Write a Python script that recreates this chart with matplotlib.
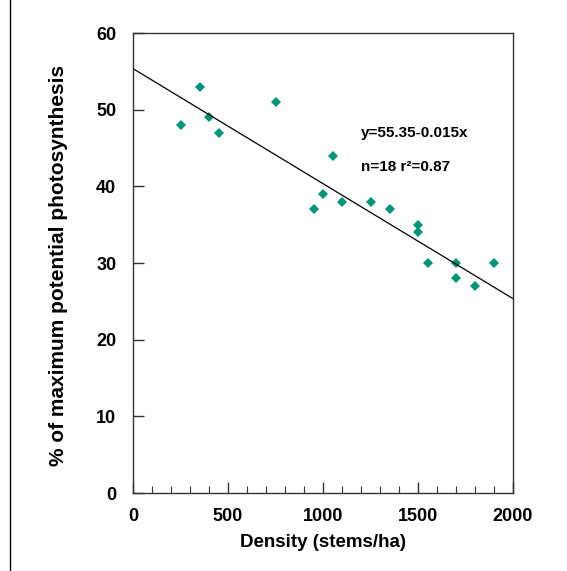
import matplotlib
matplotlib.use("Agg")
import matplotlib.pyplot as plt
from matplotlib.lines import Line2D
from matplotlib.ticker import MultipleLocator

plt.rcParams['font.family'] = ['Liberation Sans', 'DejaVu Sans']

density = [250, 350, 400, 450, 750, 950, 1000, 1050, 1100, 1250, 1350, 1500, 1500, 1550, 1700, 1700, 1800, 1900]
photo = [48, 53, 49, 47, 51, 37, 39, 44, 38, 38, 37, 35, 34, 30, 30, 28, 27, 30]
intercept = 55.35
slope = -0.015
x_ticks = [0, 500, 1000, 1500, 2000]
y_ticks = [0, 10, 20, 30, 40, 50, 60]

fig = plt.figure(figsize=(5.67, 5.71), dpi=100)
ax = fig.add_axes([0.2346, 0.1366, 0.6702, 0.8056])

ax.plot(density, photo, linestyle='none', marker='D', markersize=5,
        color='#009478', markeredgewidth=0)
xs = [0, 2000]
ax.plot(xs, [intercept + slope * v for v in xs], color='black', linewidth=0.9)

ax.set_xlim(0, 2000)
ax.set_ylim(0, 60)
ax.set_xticks(x_ticks)
ax.set_yticks(y_ticks)
ax.xaxis.set_minor_locator(MultipleLocator(100))
ax.tick_params(axis='x', which='major', direction='in', length=8, width=1, pad=11,
               labelsize=13, color='#333333')
ax.tick_params(axis='x', which='minor', direction='in', length=5, width=0.8, color='#333333')
ax.tick_params(axis='y', which='major', direction='in', length=8, width=1, pad=12,
               labelsize=13, color='#333333')
for lbl in ax.get_xticklabels() + ax.get_yticklabels():
    lbl.set_fontweight('bold')
for sp in ax.spines.values():
    sp.set_linewidth(1.0)
    sp.set_color('#333333')

ax.set_xlabel('Density (stems/ha)', fontsize=13.5, fontweight='bold', labelpad=6)
ax.set_ylabel('% of maximum potential photosynthesis', fontsize=15, fontweight='bold')
ax.yaxis.set_label_coords(-0.171, 0.495)

ax.text(1200, 47, 'y=55.35-0.015x', fontsize=11, fontweight='bold', va='center')
ax.text(1200, 42.5, 'n=18 r²=0.87', fontsize=11, fontweight='bold', va='center')

fig.add_artist(Line2D([10 / 567, 10 / 567], [0, 1], transform=fig.transFigure,
                      color='black', linewidth=1))

fig.savefig('out.png', dpi=100)
